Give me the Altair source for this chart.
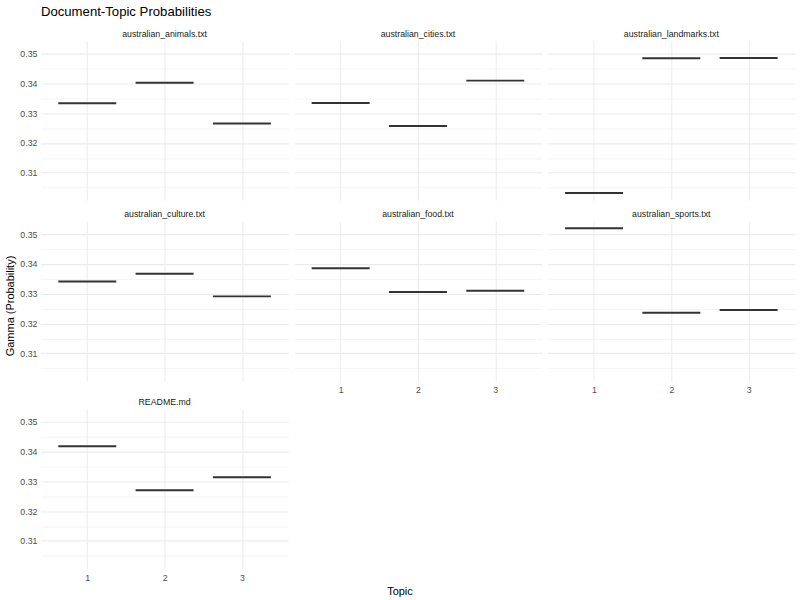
import altair as alt
import pandas as pd

documents = ["australian_animals.txt", "australian_cities.txt", "australian_landmarks.txt",
             "australian_culture.txt", "australian_food.txt", "australian_sports.txt",
             "README.md"]
topics = [1, 2, 3]
gamma_animals = [0.3333, 0.3402, 0.3265]
gamma_cities = [0.3334, 0.3257, 0.3409]
gamma_landmarks = [0.3032, 0.3484, 0.3485]
gamma_culture = [0.3341, 0.3367, 0.3291]
gamma_food = [0.3385, 0.3306, 0.3310]
gamma_sports = [0.3519, 0.3236, 0.3245]
gamma_readme = [0.3417, 0.3270, 0.3313]

y_values = [0.305, 0.31, 0.315, 0.32, 0.325, 0.33, 0.335, 0.34, 0.345, 0.35]

FONT = "Liberation Sans"
MAJOR = "round(datum.value*1000) % 10 == 0"


def panel(doc, vals, show_y, show_x):
    df = pd.DataFrame({"topic": topics, "gamma": vals})
    x_axis = alt.Axis(values=topics, format="d", title=None, grid=True, ticks=False,
                      domain=False, labels=show_x, labelFontSize=8.8,
                      labelColor="#4d4d4d", labelPadding=5)
    y_axis = alt.Axis(values=y_values, title=None, grid=True, ticks=False, domain=False,
                      labels=show_y, labelFontSize=8.8, labelColor="#4d4d4d", labelPadding=4,
                      labelExpr=f"{MAJOR} ? format(datum.value, '.2f') : ''",
                      gridWidth={"condition": {"test": MAJOR, "value": 1.1}, "value": 0.55})
    return alt.Chart(df).transform_calculate(
        x0="datum.topic - 0.375", x1="datum.topic + 0.375"
    ).mark_rule(color="#333333", strokeWidth=2).encode(
        x=alt.X("x0:Q", scale=alt.Scale(domain=[0.4, 3.6], nice=False, zero=False),
                axis=x_axis),
        x2="x1:Q",
        y=alt.Y("gamma:Q", scale=alt.Scale(domain=[0.3008, 0.3543], nice=False, zero=False),
                axis=y_axis),
    ).properties(
        width=248, height=160,
        title=alt.TitleParams(doc, fontSize=8.8, color="#1a1a1a", fontWeight="normal",
                              anchor="middle", offset=2, font=FONT),
    )


row1 = alt.hconcat(panel(documents[0], gamma_animals, True, False),
                   panel(documents[1], gamma_cities, False, False),
                   panel(documents[2], gamma_landmarks, False, False), spacing=6)
row2 = alt.hconcat(panel(documents[3], gamma_culture, True, False),
                   panel(documents[4], gamma_food, False, True),
                   panel(documents[5], gamma_sports, False, True), spacing=6)
row3 = panel(documents[6], gamma_readme, True, True)

top = alt.vconcat(row1, row2, spacing=10)
grid = alt.vconcat(top, row3, spacing=3)

with_y = alt.hconcat(grid, spacing=0, title=alt.TitleParams(
    "Gamma (Probability)", orient="left", anchor="middle", fontSize=11,
    fontWeight="normal", color="#000000", font=FONT, offset=4))
with_x = alt.vconcat(with_y, spacing=0, title=alt.TitleParams(
    "Topic", orient="bottom", anchor="middle", fontSize=11,
    fontWeight="normal", color="#000000", font=FONT, offset=4))
chart = alt.vconcat(with_x, spacing=0, title=alt.TitleParams(
    "Document-Topic Probabilities", anchor="start", frame="group", fontSize=13.2,
    fontWeight="normal", color="#000000", font=FONT, offset=11))

chart = chart.configure(
    padding={"left": 4, "top": 4, "right": 5, "bottom": 5}, background="white"
).configure_view(stroke=None).configure_axis(
    gridColor="#ebebeb", labelFont=FONT, titleFont=FONT
)

chart.save("out.html", embed_options={"renderer": "svg", "actions": False})
